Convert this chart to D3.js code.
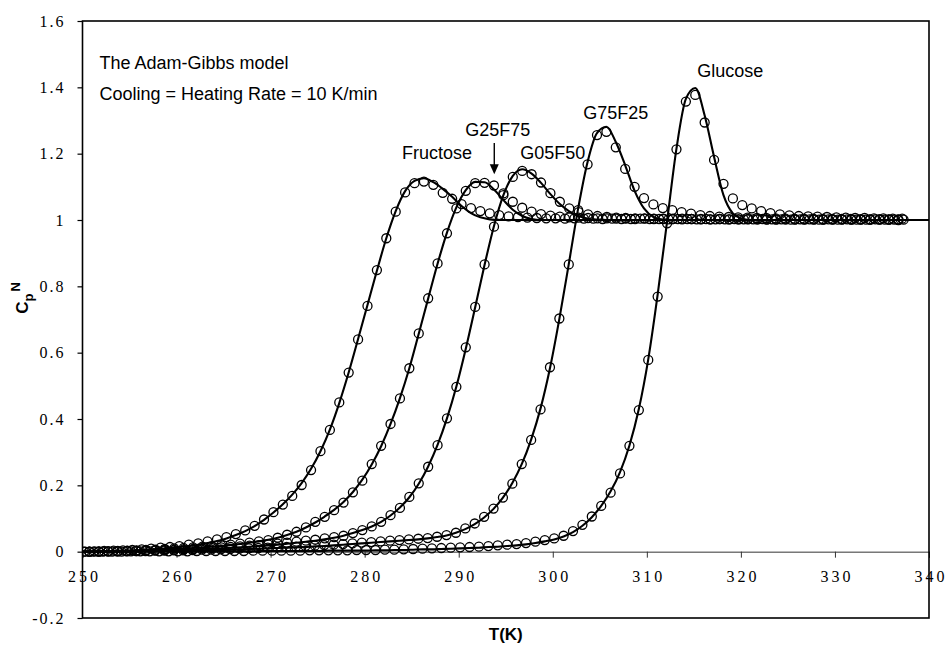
<!DOCTYPE html>
<html>
<head>
<meta charset="utf-8">
<script src="https://cdn.jsdelivr.net/npm/d3@7"></script>
<style>
  body { margin: 0; background: #fff; }
  svg { display: block; }
</style>
</head>
<body>
<svg id="chart" width="945" height="653"></svg>
<script>
// ---- axis ticks ----
const xTicks = [250, 260, 270, 280, 290, 300, 310, 320, 330, 340];
const xTickLabels = ["250", "260", "270", "280", "290", "300", "310", "320", "330", "340"];
const yTicks = [-0.2, 0, 0.2, 0.4, 0.6, 0.8, 1, 1.2, 1.4, 1.6];
const yTickLabels = ["-0.2", "0", "0.2", "0.4", "0.6", "0.8", "1", "1.2", "1.4", "1.6"];

// ---- samples: names, first temperature of each run (1 K steps) ----
const sampleNames = ["Fructose", "G25F75", "G05F50", "G75F25", "Glucose"];
const measuredStartT = [250.3, 250.75, 250.75, 250.7, 250.15];
const modelStartT = [249.3, 249.75, 249.75, 249.7, 249.15];

// ---- measured normalized heat capacity (open circles) ----
const fructoseMeasured = [
  0.000, 0.001, 0.002, 0.003, 0.004, 0.005, 0.007, 0.009, 0.012, 0.014,
  0.017, 0.021, 0.025, 0.031, 0.037, 0.044, 0.053, 0.064, 0.078, 0.097,
  0.119, 0.142, 0.168, 0.201, 0.246, 0.303, 0.367, 0.450, 0.540, 0.640,
  0.741, 0.849, 0.945, 1.025, 1.083, 1.111, 1.116, 1.106, 1.082, 1.064,
  1.048, 1.036, 1.027, 1.020, 1.015, 1.011, 1.009, 1.007, 1.006, 1.005,
  1.005, 1.004, 1.005, 1.004, 1.004, 1.003, 1.004, 1.003, 1.003, 1.004,
  1.003, 1.003, 1.002, 1.003, 1.003, 1.002, 1.003, 1.002, 1.002, 1.003,
  1.002, 1.002, 1.003, 1.002, 1.002, 1.001, 1.002, 1.002, 1.001, 1.002,
  1.001, 1.002, 1.001, 1.001, 1.002, 1.001, 1.001, 1.001
];
const g25f75Measured = [
  0.000, 0.001, 0.001, 0.002, 0.003, 0.004, 0.005, 0.006, 0.008, 0.010,
  0.011, 0.013, 0.015, 0.017, 0.019, 0.021, 0.024, 0.027, 0.031, 0.035,
  0.042, 0.051, 0.060, 0.073, 0.090, 0.105, 0.125, 0.148, 0.179, 0.214,
  0.264, 0.319, 0.385, 0.462, 0.553, 0.658, 0.764, 0.869, 0.960, 1.035,
  1.088, 1.111, 1.112, 1.104, 1.080, 1.055, 1.037, 1.025, 1.018, 1.013,
  1.010, 1.008, 1.007, 1.006, 1.005, 1.005, 1.004, 1.004, 1.003, 1.004,
  1.003, 1.003, 1.003, 1.002, 1.003, 1.002, 1.002, 1.003, 1.002, 1.002,
  1.002, 1.002, 1.001, 1.002, 1.002, 1.001, 1.002, 1.001, 1.001, 1.002,
  1.001, 1.001, 1.002, 1.001, 1.001, 1.001, 1.000
];
const g05f50Measured = [
  0.000, 0.000, 0.001, 0.001, 0.002, 0.002, 0.003, 0.004, 0.005, 0.006,
  0.007, 0.008, 0.010, 0.011, 0.013, 0.014, 0.016, 0.018, 0.020, 0.022,
  0.024, 0.027, 0.030, 0.033, 0.036, 0.040, 0.044, 0.048, 0.056, 0.065,
  0.076, 0.090, 0.110, 0.132, 0.165, 0.206, 0.256, 0.321, 0.402, 0.497,
  0.616, 0.738, 0.866, 0.980, 1.075, 1.130, 1.148, 1.138, 1.113, 1.081,
  1.055, 1.035, 1.024, 1.017, 1.012, 1.009, 1.007, 1.006, 1.005, 1.005,
  1.004, 1.004, 1.003, 1.004, 1.003, 1.003, 1.002, 1.003, 1.002, 1.002,
  1.003, 1.002, 1.002, 1.001, 1.002, 1.002, 1.001, 1.002, 1.001, 1.001,
  1.002, 1.001, 1.001, 1.001, 1.002, 1.001, 1.001
];
const g75f25Measured = [
  0.000, 0.000, 0.001, 0.001, 0.001, 0.002, 0.002, 0.003, 0.003, 0.004,
  0.004, 0.005, 0.006, 0.006, 0.007, 0.008, 0.009, 0.010, 0.011, 0.012,
  0.013, 0.014, 0.015, 0.017, 0.018, 0.020, 0.021, 0.023, 0.025, 0.027,
  0.029, 0.031, 0.033, 0.035, 0.037, 0.039, 0.041, 0.045, 0.050, 0.057,
  0.070, 0.085, 0.105, 0.130, 0.163, 0.205, 0.264, 0.337, 0.429, 0.556,
  0.703, 0.866, 1.030, 1.168, 1.256, 1.266, 1.219, 1.154, 1.100, 1.066,
  1.047, 1.036, 1.030, 1.024, 1.019, 1.015, 1.012, 1.010, 1.009, 1.008,
  1.007, 1.006, 1.006, 1.005, 1.005, 1.004, 1.004, 1.004, 1.003, 1.003,
  1.003, 1.003, 1.002, 1.002, 1.002, 1.002, 1.002
];
const glucoseMeasured = [
  0.000, 0.000, 0.000, 0.000, 0.000, 0.001, 0.001, 0.001, 0.001, 0.001,
  0.001, 0.001, 0.002, 0.002, 0.002, 0.002, 0.002, 0.002, 0.003, 0.003,
  0.003, 0.003, 0.003, 0.003, 0.004, 0.004, 0.004, 0.004, 0.004, 0.005,
  0.005, 0.005, 0.006, 0.006, 0.007, 0.008, 0.009, 0.010, 0.011, 0.012,
  0.013, 0.014, 0.015, 0.017, 0.019, 0.021, 0.023, 0.026, 0.030, 0.035,
  0.040, 0.048, 0.062, 0.081, 0.106, 0.138, 0.178, 0.236, 0.319, 0.427,
  0.578, 0.769, 0.990, 1.213, 1.357, 1.377, 1.294, 1.181, 1.109, 1.065,
  1.045, 1.035, 1.027, 1.021, 1.017, 1.014, 1.012, 1.011, 1.010, 1.009,
  1.008, 1.007, 1.006, 1.006, 1.005, 1.005, 1.004, 1.004
];

// ---- Adam-Gibbs model curves (solid lines) ----
const fructoseModel = [
  0.000, 0.000, 0.001, 0.001, 0.002, 0.003, 0.004, 0.005, 0.007, 0.009,
  0.011, 0.014, 0.017, 0.021, 0.026, 0.032, 0.040, 0.050, 0.062, 0.077,
  0.096, 0.118, 0.143, 0.172, 0.207, 0.250, 0.303, 0.368, 0.448, 0.540,
  0.641, 0.744, 0.847, 0.945, 1.027, 1.087, 1.118, 1.126, 1.114, 1.094,
  1.070, 1.042, 1.021, 1.008, 1.002, 1.000, 1.000, 1.000, 1.000, 1.000,
  1.000, 1.000, 1.000, 1.000, 1.000, 1.000, 1.000, 1.000, 1.000, 1.000,
  1.000, 1.000, 1.000, 1.000, 1.000, 1.000, 1.000, 1.000, 1.000, 1.000,
  1.000, 1.000, 1.000, 1.000, 1.000, 1.000, 1.000, 1.000, 1.000, 1.000,
  1.000, 1.000, 1.000, 1.000, 1.000, 1.000, 1.000, 1.000, 1.000, 1.000,
  1.000, 1.000
];
const g25f75Model = [
  0.000, 0.000, 0.001, 0.001, 0.002, 0.002, 0.003, 0.004, 0.005, 0.006,
  0.008, 0.009, 0.011, 0.013, 0.015, 0.017, 0.020, 0.023, 0.027, 0.031,
  0.036, 0.042, 0.050, 0.060, 0.073, 0.088, 0.106, 0.126, 0.150, 0.180,
  0.217, 0.263, 0.318, 0.385, 0.463, 0.553, 0.657, 0.763, 0.868, 0.962,
  1.038, 1.090, 1.115, 1.114, 1.092, 1.060, 1.031, 1.012, 1.003, 1.000,
  1.000, 1.000, 1.000, 1.000, 1.000, 1.000, 1.000, 1.000, 1.000, 1.000,
  1.000, 1.000, 1.000, 1.000, 1.000, 1.000, 1.000, 1.000, 1.000, 1.000,
  1.000, 1.000, 1.000, 1.000, 1.000, 1.000, 1.000, 1.000, 1.000, 1.000,
  1.000, 1.000, 1.000, 1.000, 1.000, 1.000, 1.000, 1.000, 1.000, 1.000,
  1.000, 1.000
];
const g05f50Model = [
  0.000, 0.000, 0.000, 0.001, 0.001, 0.001, 0.002, 0.002, 0.003, 0.004,
  0.005, 0.006, 0.007, 0.008, 0.009, 0.010, 0.012, 0.013, 0.015, 0.017,
  0.019, 0.021, 0.024, 0.027, 0.030, 0.033, 0.037, 0.042, 0.048, 0.056,
  0.065, 0.076, 0.090, 0.109, 0.133, 0.164, 0.205, 0.257, 0.322, 0.402,
  0.498, 0.612, 0.737, 0.865, 0.982, 1.075, 1.133, 1.153, 1.140, 1.112,
  1.078, 1.048, 1.026, 1.012, 1.004, 1.001, 1.000, 1.000, 1.000, 1.000,
  1.000, 1.000, 1.000, 1.000, 1.000, 1.000, 1.000, 1.000, 1.000, 1.000,
  1.000, 1.000, 1.000, 1.000, 1.000, 1.000, 1.000, 1.000, 1.000, 1.000,
  1.000, 1.000, 1.000, 1.000, 1.000, 1.000, 1.000, 1.000, 1.000, 1.000,
  1.000, 1.000
];
const g75f25Model = [
  0.000, 0.000, 0.000, 0.000, 0.001, 0.001, 0.001, 0.002, 0.002, 0.002,
  0.003, 0.003, 0.004, 0.004, 0.005, 0.005, 0.006, 0.007, 0.008, 0.009,
  0.010, 0.011, 0.012, 0.013, 0.014, 0.016, 0.017, 0.019, 0.021, 0.023,
  0.025, 0.027, 0.029, 0.031, 0.033, 0.035, 0.037, 0.040, 0.044, 0.049,
  0.057, 0.068, 0.083, 0.103, 0.129, 0.163, 0.207, 0.264, 0.338, 0.432,
  0.553, 0.702, 0.867, 1.035, 1.175, 1.262, 1.281, 1.235, 1.165, 1.088,
  1.035, 1.009, 1.001, 1.000, 1.000, 1.000, 1.000, 1.000, 1.000, 1.000,
  1.000, 1.000, 1.000, 1.000, 1.000, 1.000, 1.000, 1.000, 1.000, 1.000,
  1.000, 1.000, 1.000, 1.000, 1.000, 1.000, 1.000, 1.000, 1.000, 1.000,
  1.000, 1.000
];
const glucoseModel = [
  0.000, 0.000, 0.000, 0.000, 0.000, 0.000, 0.000, 0.000, 0.000, 0.000,
  0.001, 0.001, 0.001, 0.001, 0.001, 0.001, 0.001, 0.001, 0.001, 0.001,
  0.002, 0.002, 0.002, 0.002, 0.002, 0.002, 0.002, 0.003, 0.003, 0.003,
  0.003, 0.003, 0.004, 0.004, 0.005, 0.005, 0.006, 0.007, 0.007, 0.008,
  0.009, 0.010, 0.011, 0.012, 0.014, 0.015, 0.017, 0.019, 0.022, 0.026,
  0.031, 0.037, 0.046, 0.059, 0.078, 0.104, 0.138, 0.182, 0.240, 0.320,
  0.430, 0.580, 0.775, 0.995, 1.215, 1.365, 1.398, 1.315, 1.190, 1.075,
  1.020, 1.004, 1.000, 1.000, 1.000, 1.000, 1.000, 1.000, 1.000, 1.000,
  1.000, 1.000, 1.000, 1.000, 1.000, 1.000, 1.000, 1.000, 1.000, 1.000,
  1.000, 1.000
];

const measuredSets = [fructoseMeasured, g25f75Measured, g05f50Measured, g75f25Measured, glucoseMeasured];
const modelSets = [fructoseModel, g25f75Model, g05f50Model, g75f25Model, glucoseModel];

// ---- layout ----
const svg = d3.select("#chart");
const plot = { left: 82.5, right: 929, top: 21, bottom: 618 };

const x = d3.scaleLinear().domain([250, 340]).range([plot.left, plot.right]);
const y = d3.scaleLinear().domain([-0.2, 1.6]).range([plot.bottom, plot.top]);

svg.append("defs").append("clipPath").attr("id", "plot-clip")
  .append("rect")
  .attr("x", plot.left).attr("y", plot.top)
  .attr("width", plot.right - plot.left).attr("height", plot.bottom - plot.top);

// zero line with its tick marks and temperature labels
const xAxis = d3.axisBottom(x)
  .tickValues(xTicks)
  .tickFormat((d, i) => xTickLabels[i])
  .tickSize(6)
  .tickPadding(13);
const gx = svg.append("g")
  .attr("transform", `translate(0,${y(0)})`)
  .call(xAxis);
gx.select(".domain").attr("stroke", "#333").attr("stroke-width", 1);
gx.selectAll(".tick line").attr("stroke", "#333").attr("stroke-width", 1);
gx.selectAll(".tick text")
  .attr("font-family", "'Liberation Serif', 'Times New Roman', serif")
  .attr("font-size", 16)
  .attr("fill", "#000")
  .attr("letter-spacing", "3px")
  .attr("dx", "1.5px");

// left axis ticks and labels
const yAxis = d3.axisLeft(y)
  .tickValues(yTicks)
  .tickFormat((d, i) => yTickLabels[i])
  .tickSize(5)
  .tickPadding(12);
const gy = svg.append("g")
  .attr("transform", `translate(${plot.left},0)`)
  .call(yAxis);
gy.select(".domain").remove();
gy.selectAll(".tick line").attr("stroke", "#000").attr("stroke-width", 1.2);
gy.selectAll(".tick text")
  .attr("font-family", "'Liberation Serif', 'Times New Roman', serif")
  .attr("font-size", 16)
  .attr("fill", "#000")
  .attr("letter-spacing", "2px");

// plot frame
svg.append("rect")
  .attr("x", plot.left).attr("y", plot.top)
  .attr("width", plot.right - plot.left).attr("height", plot.bottom - plot.top)
  .attr("fill", "none").attr("stroke", "#000").attr("stroke-width", 1.6);

// model curves
const line = d3.line()
  .x(d => x(d.t))
  .y(d => y(d.c))
  .curve(d3.curveMonotoneX);

const curves = svg.append("g").attr("clip-path", "url(#plot-clip)");
modelSets.forEach((vals, s) => {
  const pts = vals.map((c, i) => ({ t: modelStartT[s] + i, c }));
  curves.append("path")
    .datum(pts)
    .attr("d", line)
    .attr("fill", "none")
    .attr("stroke", "#000")
    .attr("stroke-width", 2.1);
});

// measured points
const dots = svg.append("g").attr("clip-path", "url(#plot-clip)");
measuredSets.forEach((vals, s) => {
  const pts = vals.map((c, i) => ({ t: measuredStartT[s] + i, c }));
  dots.selectAll(null)
    .data(pts)
    .join("circle")
    .attr("cx", d => x(d.t))
    .attr("cy", d => y(d.c))
    .attr("r", 4.5)
    .attr("fill", "none")
    .attr("stroke", "#000")
    .attr("stroke-width", 1.3);
});

// annotations
const sans = "'Liberation Sans', Arial, Helvetica, sans-serif";
const notes = [
  { t: 251.8, c: 1.455, text: "The Adam-Gibbs model" },
  { t: 251.8, c: 1.362, text: "Cooling = Heating Rate = 10 K/min" },
  { t: 283.97, c: 1.185, text: sampleNames[0] },
  { t: 290.7, c: 1.254, text: sampleNames[1] },
  { t: 296.54, c: 1.185, text: sampleNames[2] },
  { t: 303.24, c: 1.306, text: sampleNames[3] },
  { t: 315.35, c: 1.432, text: sampleNames[4] }
];
svg.append("g").selectAll("text")
  .data(notes)
  .join("text")
  .attr("x", d => x(d.t))
  .attr("y", d => y(d.c))
  .attr("font-family", sans)
  .attr("font-size", 18)
  .attr("fill", "#000")
  .text(d => d.text);

// arrow pointing at the G25F75 peak
const arrowT = 293.78;
svg.append("line")
  .attr("x1", x(arrowT)).attr("x2", x(arrowT))
  .attr("y1", y(1.232)).attr("y2", y(1.165))
  .attr("stroke", "#000").attr("stroke-width", 1.4);
svg.append("path")
  .attr("d", `M${x(arrowT) - 4.5},${y(1.168)} L${x(arrowT) + 4.5},${y(1.168)} L${x(arrowT)},${y(1.138)} Z`)
  .attr("fill", "#000");

// axis titles
svg.append("text")
  .attr("x", (plot.left + plot.right) / 2)
  .attr("y", 640)
  .attr("text-anchor", "middle")
  .attr("font-family", sans)
  .attr("font-size", 17)
  .attr("font-weight", "bold")
  .attr("fill", "#000")
  .text("T(K)");

const yTitle = svg.append("text")
  .attr("transform", "translate(28,298) rotate(-90)")
  .attr("text-anchor", "middle")
  .attr("font-family", sans)
  .attr("font-size", 17)
  .attr("font-weight", "bold")
  .attr("fill", "#000");
yTitle.append("tspan").text("C");
yTitle.append("tspan").attr("dy", 5).attr("font-size", 13).text("p");
yTitle.append("tspan").attr("dy", -13).attr("dx", 2).attr("font-size", 13).text("N");
</script>
</body>
</html>
